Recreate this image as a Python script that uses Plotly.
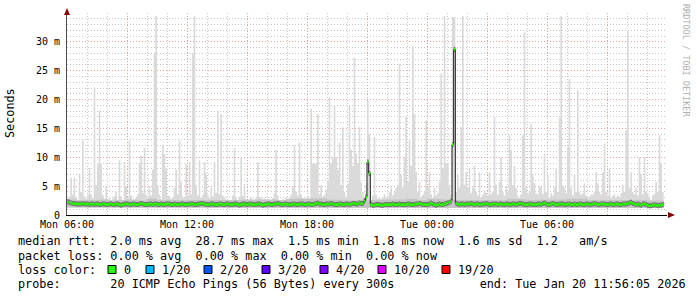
import plotly.graph_objects as go
import pandas as pd

# ---------------- data ----------------
start = pd.Timestamp("2026-01-19 06:00:00")
step_min = 5          # rtt step, minutes
coarse_min = 30       # smoke band step, minutes

# max ping (top of light smoke), one value per 5 minutes, 12 per row = 1 hour
rtt_max = [
    2.8, 3.2, 6.5, 3.6, 6.5, 3.0, 2.6, 7.2, 4.0, 12.9, 3.2, 2.8,
    3.5, 8.1, 3.6, 2.9, 22.1, 5.2, 8.8, 18.1, 8.8, 3.5, 2.8, 5.0,
    2.6, 3.0, 2.6, 2.8, 3.3, 4.0, 2.7, 9.5, 3.2, 2.6, 9.2, 5.0,
    3.0, 12.9, 3.4, 2.6, 2.6, 2.9, 3.6, 8.9, 10.3, 3.8, 11.6, 3.5,
    2.9, 5.0, 3.4, 7.9, 28.0, 34.5, 5.2, 3.5, 2.8, 12.1, 10.6, 7.9,
    3.4, 3.3, 2.8, 3.1, 4.7, 7.9, 3.6, 12.9, 5.7, 3.2, 2.9, 8.9,
    3.4, 9.2, 3.6, 28.0, 34.5, 5.2, 3.4, 9.5, 3.0, 3.5, 9.2, 7.2,
    3.5, 2.9, 4.7, 3.2, 9.2, 3.8, 18.1, 3.6, 17.5, 3.4, 3.1, 2.6,
    2.6, 2.6, 2.6, 3.4, 11.6, 3.0, 2.6, 3.1, 9.9, 3.3, 5.4, 2.8,
    2.6, 2.6, 3.0, 2.6, 2.6, 2.8, 9.2, 3.1, 3.0, 2.6, 2.9, 2.6,
    2.8, 2.6, 2.6, 2.9, 3.8, 11.3, 3.4, 2.6, 2.6, 2.8, 2.6, 3.0,
    2.7, 2.6, 3.6, 4.8, 12.1, 4.0, 3.4, 12.6, 3.6, 2.9, 2.6, 2.6,
    3.4, 2.6, 18.4, 8.9, 8.9, 8.9, 17.5, 3.6, 5.2, 3.2, 3.5, 4.4,
    5.7, 20.4, 9.0, 10.0, 19.0, 10.0, 7.8, 12.6, 5.2, 15.2, 4.0, 3.0,
    5.4, 19.0, 11.3, 8.5, 27.3, 10.6, 9.0, 15.2, 5.7, 4.0, 3.0, 5.2,
    19.8, 14.0, 2.0, 3.4, 13.5, 3.5, 2.8, 3.0, 2.6, 3.0, 3.6, 2.9,
    3.2, 4.0, 4.7, 3.4, 4.0, 4.7, 5.2, 26.2, 7.0, 4.7, 10.0, 17.0,
    5.7, 12.9, 8.5, 29.3, 17.5, 7.5, 4.0, 5.7, 3.0, 3.5, 4.0, 16.4,
    4.7, 7.4, 3.6, 3.0, 4.7, 3.4, 3.8, 5.7, 24.5, 8.0, 34.5, 9.0,
    9.0, 5.2, 3.5, 34.3, 34.3, 4.0, 7.0, 4.7, 15.2, 34.5, 5.2, 7.4,
    4.7, 8.0, 3.8, 4.7, 8.5, 4.0, 3.4, 7.4, 3.0, 3.5, 4.0, 3.8,
    3.4, 7.4, 3.6, 4.0, 17.0, 5.2, 3.5, 5.7, 9.9, 4.0, 3.4, 5.0,
    4.0, 13.9, 11.3, 5.2, 8.5, 4.7, 3.4, 3.0, 3.6, 13.8, 31.6, 4.7,
    3.6, 4.0, 15.8, 7.0, 5.5, 3.8, 3.5, 5.0, 4.8, 3.6, 10.6, 4.0,
    7.0, 3.0, 3.8, 3.4, 4.8, 7.9, 4.0, 16.8, 34.5, 5.2, 4.8, 3.8,
    11.8, 23.6, 4.7, 3.4, 7.0, 4.0, 21.6, 4.0, 3.5, 3.8, 5.5, 3.4,
    3.2, 3.0, 3.6, 3.5, 4.0, 7.4, 5.5, 4.0, 3.6, 7.4, 12.4, 4.0,
    3.4, 8.0, 3.0, 3.4, 3.6, 3.0, 3.5, 3.0, 3.8, 5.2, 4.0, 14.7,
    31.9, 4.7, 7.4, 4.0, 3.6, 4.7, 3.4, 10.0, 7.0, 3.6, 10.0, 4.0,
    3.8, 3.0, 2.6, 3.4, 3.6, 5.7, 4.0, 13.8, 9.0, 4.0,
]

# median rtt, one value per 5 minutes
rtt_median = [
    2.3, 2.2, 2.1, 2.0, 2.0, 1.9, 1.9, 1.9, 1.9, 2.0, 1.9, 1.9,
    1.9, 1.8, 1.9, 1.9, 1.8, 1.9, 1.9, 1.8, 1.8, 1.9, 1.9, 1.8,
    1.8, 1.9, 1.9, 1.8, 1.8, 1.9, 1.9, 1.8, 1.7, 1.8, 1.9, 1.9,
    1.9, 1.8, 1.8, 1.9, 1.9, 1.8, 1.8, 1.9, 2.0, 1.9, 1.8, 1.8,
    1.8, 1.9, 1.9, 1.8, 1.9, 1.9, 1.8, 1.8, 1.9, 1.8, 1.8, 1.9,
    1.9, 1.9, 1.8, 1.8, 1.9, 1.8, 1.8, 1.8, 1.9, 1.9, 1.8, 1.8,
    1.8, 1.9, 1.9, 1.9, 1.8, 1.8, 1.9, 1.9, 2.0, 2.0, 1.9, 1.8,
    1.8, 1.8, 1.9, 1.9, 1.8, 1.8, 1.8, 1.9, 1.9, 1.8, 1.8, 1.9,
    1.9, 1.8, 1.8, 1.8, 1.9, 1.9, 1.8, 1.7, 1.8, 1.9, 1.9, 1.8,
    1.8, 1.9, 1.9, 1.8, 1.8, 1.8, 1.9, 1.9, 1.8, 1.7, 1.8, 1.8,
    1.9, 1.9, 1.8, 1.8, 1.9, 1.9, 2.0, 1.9, 1.8, 1.8, 1.9, 1.9,
    1.8, 1.8, 1.8, 1.9, 1.9, 1.8, 1.8, 1.9, 1.9, 1.9, 1.8, 1.8,
    1.9, 1.9, 1.8, 1.8, 1.9, 2.0, 2.1, 1.9, 1.9, 1.8, 1.8, 1.9,
    1.9, 1.9, 2.0, 1.9, 1.8, 1.8, 1.8, 1.9, 1.9, 1.8, 1.8, 1.9,
    1.9, 1.8, 1.9, 2.0, 2.0, 1.9, 1.9, 2.1, 2.0, 2.0, 2.4, 3.1,
    9.2, 7.2, 1.8, 1.7, 1.7, 1.8, 1.8, 1.8, 1.7, 1.7, 1.8, 1.8,
    1.8, 1.8, 1.8, 1.9, 1.8, 1.8, 1.8, 1.9, 1.8, 1.8, 1.8, 1.8,
    1.9, 1.9, 1.8, 1.8, 1.8, 1.9, 1.9, 2.0, 1.9, 1.8, 1.8, 1.8,
    1.8, 1.9, 2.1, 1.9, 1.8, 1.7, 1.8, 1.9, 1.8, 1.8, 1.9, 2.0,
    2.1, 2.2, 2.4, 12.2, 28.7, 2.0, 1.9, 1.8, 1.9, 1.9, 1.8, 1.9,
    1.9, 1.9, 2.0, 1.9, 1.8, 1.9, 1.9, 1.8, 1.8, 1.9, 1.9, 2.0,
    1.9, 1.8, 1.8, 1.9, 1.9, 1.9, 1.8, 1.9, 1.9, 1.8, 1.8, 1.9,
    1.9, 1.8, 1.8, 1.9, 1.9, 1.8, 1.9, 2.0, 2.0, 1.9, 1.8, 1.8,
    1.8, 1.9, 1.9, 1.8, 1.8, 1.8, 1.9, 1.9, 1.8, 2.0, 2.1, 1.9,
    1.8, 1.8, 1.9, 2.0, 1.9, 1.8, 1.8, 1.9, 1.9, 1.9, 1.8, 1.8,
    1.9, 1.9, 1.8, 1.8, 1.9, 1.8, 1.8, 1.9, 1.9, 1.8, 1.8, 1.9,
    1.9, 1.8, 1.8, 1.9, 2.0, 1.9, 1.8, 1.8, 1.9, 1.9, 1.9, 1.8,
    1.8, 1.9, 1.9, 1.8, 1.8, 1.9, 1.9, 1.8, 1.8, 1.9, 1.9, 1.9,
    2.0, 2.1, 2.2, 2.0, 1.9, 1.8, 1.9, 1.8, 1.7, 1.9, 1.9, 1.8,
    1.7, 1.6, 1.6, 1.7, 1.8, 1.7, 1.6, 1.7, 1.7, 1.8,
]

# lowest ping and inner (denser) smoke top, one value per 30 minutes
smoke_low = [
    1.3, 1.3, 1.2, 1.3, 1.3, 1.2, 1.3, 1.3, 1.2, 1.3,
    1.3, 1.3, 1.2, 1.3, 1.3, 1.3, 1.2, 1.3, 1.3, 1.2,
    1.3, 1.3, 1.3, 1.2, 1.3, 1.3, 1.2, 1.3, 1.3, 1.2,
    1.3, 1.2, 1.3, 1.3, 1.2, 1.3, 1.3, 1.3, 1.2, 1.3,
    1.3, 1.2, 1.3, 1.3, 1.3, 1.2, 1.3, 1.3, 1.2, 1.3,
    1.3, 1.3, 1.2, 1.3, 1.3, 1.2, 1.2, 1.3, 1.2, 1.2,
]
smoke_mid = [
    2.7, 2.5, 2.6, 2.7, 2.5, 2.6, 2.7, 2.5, 2.8, 2.6,
    2.5, 2.5, 2.6, 2.5, 2.5, 2.5, 2.6, 2.6, 2.7, 2.8,
    2.7, 2.6, 2.8, 2.9, 2.8, 2.9, 2.7, 2.6, 2.5, 2.6,
    2.6, 2.7, 2.6, 2.7, 2.8, 2.6, 2.8, 2.7, 2.6, 2.6,
    2.7, 2.6, 2.7, 2.6, 2.8, 2.7, 2.6, 2.6, 2.7, 2.7,
    2.8, 2.8, 2.6, 2.6, 2.7, 2.7, 2.6, 2.6, 2.5, 2.5,
]

x_tick_labels = ["Mon 06:00", "", "Mon 12:00", "", "Mon 18:00", "",
                 "Tue 00:00", "", "Tue 06:00", "", ""]
y_tick_values = [0, 5, 10, 15, 20, 25, 30]
y_tick_labels = ["0", "5 m", "10 m", "15 m", "20 m", "25 m", "30 m"]

stats_rtt = ["2.0", "28.7", "1.5", "1.8", "1.6", "1.2"]
stats_loss = ["0.00", "0.00", "0.00", "0.00"]
loss_labels = ["0", "1/20", "2/20", "3/20", "4/20", "10/20", "19/20"]
loss_colors = ["#26ff00", "#00b8ff", "#0059ff", "#5e00ff", "#7e00ff", "#dd00ff", "#ff0000"]
probe_text = "20 ICMP Echo Pings (56 Bytes) every 300s"
end_text = "end: Tue Jan 20 11:56:05 2026"

# ---------------- geometry ----------------
W, H = 697, 297
L, T = 67, 13
PW, PH = 600, 202
R = W - L - PW
B = H - T - PH
MONO = "DejaVu Sans Mono"


def px(x):
    return (x - L) / PW


def py(y):
    return (T + PH - y) / PH


n = len(rtt_median)
edges = [start + pd.Timedelta(minutes=step_min * i) for i in range(n + 1)]
data_end = edges[-1]
nc = len(smoke_low)
cedges = [start + pd.Timedelta(minutes=coarse_min * j) for j in range(nc)] + [data_end]


def stairs(ed, vals):
    xs, ys = [], []
    for i, v in enumerate(vals):
        xs += [ed[i], ed[i + 1]]
        ys += [v, v]
    return xs, ys


def band(ed_hi, hi, ed_lo, lo):
    xh, yh = stairs(ed_hi, hi)
    xl, yl = stairs(ed_lo, lo)
    return xh + xl[::-1], yh + yl[::-1]


def flat_segments(ed, vals):
    xs, ys = [], []
    for i, v in enumerate(vals):
        xs += [ed[i], ed[i + 1], None]
        ys += [v, v, None]
    return xs, ys


fig = go.Figure()

bx, by = band(edges, rtt_max, cedges, smoke_low)
fig.add_trace(go.Scatter(x=bx, y=by, fill="toself", fillcolor="#dadada",
                         line=dict(width=0), mode="lines", hoverinfo="skip"))
mx, my = band(cedges, smoke_mid, cedges, smoke_low)
fig.add_trace(go.Scatter(x=mx, y=my, fill="toself", fillcolor="#c4c4c4",
                         line=dict(width=0), mode="lines", hoverinfo="skip"))

fx, fy = flat_segments(edges, rtt_median)
fig.add_trace(go.Scatter(x=fx, y=fy, mode="lines", connectgaps=False,
                         line=dict(color="#707070", width=5), hoverinfo="skip"))
sx, sy = stairs(edges, rtt_median)
fig.add_trace(go.Scatter(x=sx, y=sy, mode="lines",
                         line=dict(color="#202020", width=1), hoverinfo="skip"))
fig.add_trace(go.Scatter(x=fx, y=fy, mode="lines", connectgaps=False,
                         line=dict(color=loss_colors[0], width=2.6), hoverinfo="skip"))

x_tick_vals = [start + pd.Timedelta(hours=3 * k) for k in range(len(x_tick_labels))]

fig.update_layout(
    width=W, height=H,
    margin=dict(l=L, r=R, t=T, b=B),
    paper_bgcolor="white", plot_bgcolor="white",
    showlegend=False,
    font=dict(family=MONO, size=10, color="#000000"),
    xaxis=dict(
        type="date",
        range=[start, start + pd.Timedelta(hours=30)],
        tickmode="array", tickvals=x_tick_vals, ticktext=x_tick_labels,
        showgrid=True, gridcolor="#e8a0a0", griddash="1px,2px", gridwidth=1,
        minor=dict(tickmode="linear", tick0=start, dtick=3600000,
                   showgrid=True, gridcolor="#c8c8c8", griddash="1px,2px", gridwidth=1),
        showline=True, linecolor="#000000", linewidth=1,
        ticks="", zeroline=False,
        tickfont=dict(family=MONO, size=10, color="#000000"),
    ),
    yaxis=dict(
        range=[0, 35],
        tickmode="array", tickvals=y_tick_values, ticktext=y_tick_labels,
        showgrid=True, gridcolor="#e8a0a0", griddash="1px,2px", gridwidth=1,
        minor=dict(tickmode="linear", tick0=0, dtick=1,
                   showgrid=True, gridcolor="#c8c8c8", griddash="1px,2px", gridwidth=1),
        showline=True, linecolor="#505050", linewidth=1,
        ticks="", zeroline=False, ticklabelstandoff=4,
        tickfont=dict(family=MONO, size=10, color="#000000"),
    ),
)

# axis arrows
fig.add_shape(type="path", xref="paper", yref="paper",
              path=f"M {px(64)},{py(15)} L {px(70)},{py(15)} L {px(67)},{py(8)} Z",
              fillcolor="#8b0000", line=dict(width=0))
fig.add_shape(type="path", xref="paper", yref="paper",
              path=f"M {px(668)},{py(212)} L {px(668)},{py(218)} L {px(675)},{py(215)} Z",
              fillcolor="#8b0000", line=dict(width=0))

NB = "\u00a0"


def mono(s):
    return s.replace(" ", NB)


line1 = (f"median rtt:  {stats_rtt[0]} ms avg  {stats_rtt[1]} ms max  {stats_rtt[2]} ms min  "
         f"{stats_rtt[3]} ms now  {stats_rtt[4]} ms sd  {stats_rtt[5]}   am/s")
line2 = (f"packet loss: {stats_loss[0]} % avg  {stats_loss[1]} % max  "
         f"{stats_loss[2]} % min  {stats_loss[3]} % now")
line4 = "probe:       " + probe_text + " " * 12 + end_text

for text, yy in [(line1, 241.5), (line2, 255.5), ("loss color:", 269.5), (line4, 283.5)]:
    fig.add_annotation(text=mono(text), xref="paper", yref="paper",
                       x=px(16), y=py(yy), xanchor="left", yanchor="middle",
                       showarrow=False, font=dict(family=MONO, size=11.8, color="#000000"))

box_x = [108, 146, 204, 262, 320, 378, 442]
for lbl, col, bxp in zip(loss_labels, loss_colors, box_x):
    fig.add_shape(type="rect", xref="paper", yref="paper",
                  x0=px(bxp), x1=px(bxp + 8), y0=py(273.5), y1=py(265.5),
                  fillcolor=col, line=dict(color="#000000", width=1))
    fig.add_annotation(text=lbl, xref="paper", yref="paper",
                       x=px(bxp + 14), y=py(269.5), xanchor="left", yanchor="middle",
                       showarrow=False, font=dict(family=MONO, size=11.8, color="#000000"))

fig.add_annotation(text="Seconds", xref="paper", yref="paper",
                   x=px(10), y=py(113), xanchor="center", yanchor="middle",
                   textangle=-90, showarrow=False,
                   font=dict(family=MONO, size=11.8, color="#000000"))
fig.add_annotation(text=mono("RRDTOOL / TOBI OETIKER"), xref="paper", yref="paper",
                   x=px(686), y=py(60), xanchor="center", yanchor="middle",
                   textangle=90, showarrow=False,
                   font=dict(family=MONO, size=8.5, color="#b0b0b0"))

fig.write_html("out.html")
